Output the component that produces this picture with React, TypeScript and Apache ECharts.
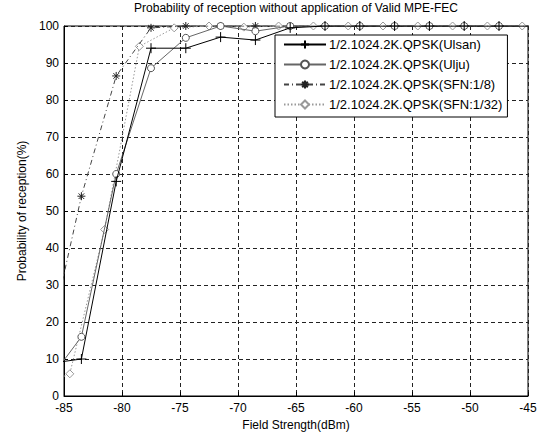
import React, { useEffect, useRef } from "react";
import * as echarts from "echarts";

const titleText = "Probability of reception without application of Valid MPE-FEC";
const xAxisName = "Field Strength(dBm)";
const yAxisName = "Probability of reception(%)";

const seriesNames = [
  "1/2.1024.2K.QPSK(Ulsan)",
  "1/2.1024.2K.QPSK(Ulju)",
  "1/2.1024.2K.QPSK(SFN:1/8)",
  "1/2.1024.2K.QPSK(SFN:1/32)",
];

// field strength sample points (dBm)
const xMain = [-86.5, -83.5, -80.5, -77.5, -74.5, -71.5, -68.5, -65.5, -62.5, -59.5, -56.5, -53.5, -50.5, -47.5, -44.5];
const x32 = [-87.5, -84.5, -81.5, -78.5, -75.5, -72.5, -69.5, -66.5, -63.5, -60.5, -57.5, -54.5, -51.5, -48.5, -45.5, -42.5];

const ulsan = [8.7, 10, 58, 94, 94, 97, 96.2, 99.5, 100, 100, 100, 100, 100, 100, 100];
const ulju = [3.4, 16, 60, 88.6, 96.8, 100, 98.6, 100, 100, 100, 100, 100, 100, 100, 100];
const sfn8 = [12, 54, 86.5, 99.5, 100, 100, 100, 100, 100, 100, 100, 100, 100, 100, 100];
const sfn32 = [2, 6, 45, 94.5, 99.5, 100, 99.7, 100, 100, 100, 100, 100, 100, 100, 100, 100];

const pairs = (xs: number[], ys: number[]) => xs.map((x, i) => [x, ys[i]]);

const PLUS = "path://M5,0 L5,10 M0,5 L10,5";
const STAR = "path://M5,0 L5,10 M0,5 L10,5 M1.5,1.5 L8.5,8.5 M8.5,1.5 L1.5,8.5";

const FONT = "'Liberation Sans', Arial, sans-serif";

export default function App() {
  const ref = useRef<HTMLDivElement>(null);
  useEffect(() => {
    if (!ref.current) return;
    const chart = echarts.init(ref.current, undefined, { renderer: "svg" });
    chart.setOption({
      animation: false,
      backgroundColor: "#fff",
      textStyle: { fontFamily: FONT },
      grid: {
        left: 64,
        right: 16,
        top: 26,
        bottom: 40,
        show: true,
        borderColor: "#000",
        borderWidth: 1,
        backgroundColor: "#fff",
      },
      graphic: [
        {
          type: "text",
          x: 296,
          y: 2,
          style: {
            text: titleText,
            fill: "#000",
            font: `12px ${FONT}`,
            textAlign: "center",
          },
        },
      ],
      legend: {
        orient: "vertical",
        left: 275,
        top: 35,
        data: seriesNames,
        backgroundColor: "#fff",
        borderColor: "#000",
        borderWidth: 1,
        borderRadius: 0,
        padding: [3, 5, 6, 8],
        itemWidth: 42,
        itemHeight: 10,
        itemGap: 7,
        textStyle: { fontFamily: FONT, fontSize: 13, color: "#000", padding: [0, 0, 0, -2] },
      },
      xAxis: {
        type: "value",
        min: -85,
        max: -45,
        interval: 5,
        name: xAxisName,
        nameLocation: "middle",
        nameGap: 22,
        nameTextStyle: { fontFamily: FONT, fontSize: 12, color: "#000" },
        axisLine: { show: true, lineStyle: { color: "#000", width: 1 } },
        axisTick: { show: true, inside: true, length: 4, lineStyle: { color: "#000" } },
        axisLabel: { fontFamily: FONT, fontSize: 12, color: "#000", margin: 6 },
        splitLine: { show: true, lineStyle: { color: "#222", type: [4, 3], width: 1 } },
      },
      yAxis: {
        type: "value",
        min: 0,
        max: 100,
        interval: 10,
        name: yAxisName,
        nameLocation: "middle",
        nameGap: 36,
        nameTextStyle: { fontFamily: FONT, fontSize: 12, color: "#000" },
        axisLine: { show: true, lineStyle: { color: "#000", width: 1 } },
        axisTick: { show: true, inside: true, length: 4, lineStyle: { color: "#000" } },
        axisLabel: { fontFamily: FONT, fontSize: 12, color: "#000", margin: 5 },
        splitLine: { show: true, lineStyle: { color: "#222", type: [4, 3], width: 1 } },
      },
      series: [
        {
          name: seriesNames[0],
          type: "line",
          data: pairs(xMain, ulsan),
          symbol: PLUS,
          symbolSize: 10,
          showAllSymbol: true,
          lineStyle: { color: "#000", width: 1 },
          itemStyle: { color: "#000", borderColor: "#000", borderWidth: 1 },
          z: 5,
        },
        {
          name: seriesNames[1],
          type: "line",
          data: pairs(xMain, ulju),
          symbol: "circle",
          symbolSize: 7,
          showAllSymbol: true,
          lineStyle: { color: "#666", width: 1 },
          itemStyle: { color: "#fff", borderColor: "#555", borderWidth: 1 },
          z: 4,
        },
        {
          name: seriesNames[2],
          type: "line",
          data: pairs(xMain, sfn8),
          symbol: STAR,
          symbolSize: 8,
          showAllSymbol: true,
          lineStyle: { color: "#444", width: 1, type: [5, 3, 1, 3] },
          itemStyle: { color: "#333", borderColor: "#222", borderWidth: 1 },
          z: 3,
        },
        {
          name: seriesNames[3],
          type: "line",
          data: pairs(x32, sfn32),
          symbol: "diamond",
          symbolSize: 8,
          showAllSymbol: true,
          lineStyle: { color: "#999", width: 1, type: [1.5, 2] },
          itemStyle: { color: "#fff", borderColor: "#999", borderWidth: 1 },
          z: 2,
        },
      ],
    });
    return () => chart.dispose();
  }, []);
  return (
    <div
      ref={ref}
      style={{ position: "fixed", left: 0, top: 0, width: 544, height: 436, background: "#fff" }}
    />
  );
}
